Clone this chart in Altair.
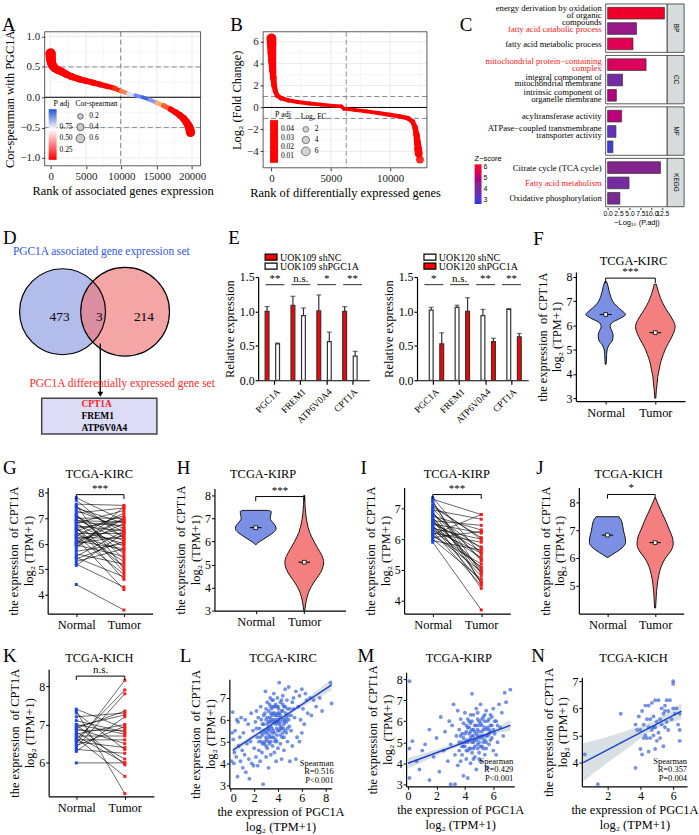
import altair as alt
import pandas as pd

SERIF = "Liberation Serif"
SANS = "Liberation Sans"
ONE = pd.DataFrame({"o": [0]})

# ======================= DATA =======================
# Panel A: ranked Spearman correlation with PGC1A
A_rank = [0, 40, 120, 300, 600, 1000, 1600, 2200, 3000, 4000, 5000, 6000, 7000, 8000, 9000,
          10000, 11000, 12000, 13000, 14000, 15000, 16000, 17000, 17700, 18300, 18800, 19200,
          19500, 19700, 19780]
A_cor = [0.72, 0.63, 0.57, 0.52, 0.48, 0.45, 0.42, 0.38, 0.34, 0.30, 0.27, 0.24, 0.21, 0.18, 0.15,
         0.10, 0.06, 0.03, 0.00, -0.04, -0.09, -0.14, -0.20, -0.25, -0.30, -0.35, -0.41,
         -0.47, -0.53, -0.58]
A_padj = [0.01, 0.01, 0.01, 0.01, 0.01, 0.01, 0.01, 0.01, 0.01, 0.01, 0.01, 0.01, 0.01, 0.01, 0.1,
          0.45, 0.75, 1.0, 1.1, 0.95, 0.65, 0.3, 0.01, 0.01, 0.01, 0.01, 0.01,
          0.01, 0.01, 0.01]
A_padj_ticks = [0.75, 0.5, 0.25]

# Panel B: ranked log2 fold change
B_rank = [0, 15, 40, 70, 110, 160, 230, 330, 480, 800, 1400, 2200, 3200, 4200, 5200, 5900, 6100,
          7000, 8000, 9000, 10000, 10800, 11500, 11900, 12100, 12220, 12300, 12360, 12400, 12510]
B_lfc = [6.3, 5.8, 5.0, 4.2, 3.4, 2.7, 2.0, 1.5, 1.1, 0.85, 0.65, 0.5, 0.36, 0.26, 0.16, 0.1, -0.12,
         -0.22, -0.36, -0.5, -0.68, -0.82, -0.98, -1.3, -1.8, -2.5, -3.2, -3.8, -4.2, -4.75]
B_padj = [0.01, 0.01, 0.01, 0.01, 0.01, 0.01, 0.01, 0.01, 0.01, 0.01, 0.01, 0.01, 0.01, 0.01, 0.01,
          0.01, 0.01, 0.01, 0.01, 0.01, 0.01, 0.01, 0.01, 0.01, 0.01, 0.01, 0.01, 0.01, 0.01, 0.01]
B_padj_ticks = [0.04, 0.03, 0.02, 0.01]

# Panel C: enrichment
C_terms = ["energy derivation by oxidation\nof organic\ncompounds", "fatty acid catabolic process",
           "fatty acid metabolic process",
           "mitochondrial protein−containing\ncomplex", "integral component of\nmitochondrial membrane",
           "intrinsic component of\norganelle membrane",
           "acyltransferase activity", "ATPase−coupled transmembrane\ntransporter activity", "",
           "Citrate cycle (TCA cycle)", "Fatty acid metabolism", "Oxidative phosphorylation"]
C_group = ["BP", "BP", "BP", "CC", "CC", "CC", "MF", "MF", "MF", "KEGG", "KEGG", "KEGG"]
C_val = [13.0, 6.6, 5.8, 8.8, 3.4, 2.0, 3.2, 1.9, 1.2, 12.1, 4.9, 2.8]
C_z = [6.1, 4.6, 5.6, 5.5, 3.8, 4.9, 5.0, 3.3, 2.8, 4.4, 3.9, 4.2]
C_tcol = ["black", "#FF2020", "black", "#FF2020", "black", "black",
          "black", "black", "black", "black", "#FF2020", "black"]
C_groups = ["BP", "CC", "MF", "KEGG"]

# Panel D: Venn
D_counts = [473, 3, 214]
D_sets = ["PGC1A associated gene expression set", "PGC1A differentially expressed gene set"]
D_genes = ["CPT1A", "FREM1", "ATP6V0A4"]
D_gene_col = ["#FF2020", "black", "black"]

# Panel E: qPCR
E_genes = ["PGC1A", "FREM1", "ATP6V0A4", "CPT1A"]
E1_nc = [1.00, 1.09, 1.01, 1.00]
E1_nc_err = [0.07, 0.13, 0.23, 0.07]
E1_sh = [0.53, 0.94, 0.56, 0.35]
E1_sh_err = [0.01, 0.11, 0.14, 0.07]
E1_sig = ["**", "n.s.", "*", "**"]
E2_nc = [1.02, 1.06, 0.94, 1.03]
E2_nc_err = [0.04, 0.03, 0.09, 0.01]
E2_sh = [0.53, 1.00, 0.56, 0.63]
E2_sh_err = [0.16, 0.20, 0.05, 0.05]
E2_sig = ["*", "n.s.", "**", "**"]

# Violins (value, half width)
F_norm_y = [7.8, 7.6, 7.4, 7.2, 7.0, 6.8, 6.6, 6.45, 6.3, 6.1, 5.95, 5.8, 5.6, 5.4, 5.2, 5.0, 4.8, 4.6, 4.4]
F_norm_w = [0.02, 0.05, 0.07, 0.1, 0.14, 0.22, 0.33, 0.4, 0.3, 0.12, 0.09, 0.12, 0.15, 0.14, 0.07, 0.03, 0.02, 0.015, 0.01]
F_tum_y = [7.7, 7.4, 7.1, 6.8, 6.5, 6.2, 5.95, 5.7, 5.4, 5.1, 4.8, 4.5, 4.2, 3.9, 3.6, 3.3, 3.0]
F_tum_w = [0.02, 0.06, 0.11, 0.18, 0.27, 0.36, 0.4, 0.37, 0.3, 0.22, 0.16, 0.11, 0.08, 0.05, 0.035, 0.02, 0.01]
F_means = [6.45, 5.7]

H_norm_y = [7.35, 7.3, 7.15, 7.0, 6.85, 6.7, 6.55, 6.4, 6.25, 6.1, 5.98, 5.87]
H_norm_w = [0.26, 0.32, 0.31, 0.3, 0.34, 0.4, 0.42, 0.37, 0.27, 0.16, 0.07, 0.01]
H_tum_y = [8.0, 7.6, 7.2, 6.8, 6.4, 6.0, 5.7, 5.4, 5.1, 4.8, 4.5, 4.2, 3.9, 3.6, 3.3, 3.0]
H_tum_w = [0.01, 0.015, 0.03, 0.06, 0.11, 0.2, 0.28, 0.36, 0.4, 0.37, 0.29, 0.19, 0.11, 0.06, 0.03, 0.01]
H_means = [6.6, 5.1]

J_norm_y = [7.48, 7.35, 7.15, 6.95, 6.75, 6.55, 6.4, 6.25, 6.12, 6.02]
J_norm_w = [0.24, 0.29, 0.32, 0.34, 0.37, 0.38, 0.33, 0.22, 0.1, 0.01]
J_tum_y = [8.15, 7.9, 7.6, 7.3, 7.0, 6.75, 6.5, 6.25, 6.0, 5.7, 5.4, 5.1, 4.8, 4.5, 4.2]
J_tum_w = [0.01, 0.07, 0.15, 0.23, 0.3, 0.36, 0.38, 0.33, 0.22, 0.13, 0.08, 0.05, 0.03, 0.02, 0.01]
J_means = [6.82, 6.55]

# Paired samples
G_norm = [7.8, 7.7, 7.55, 7.5, 7.4, 7.3, 7.2, 7.1, 7.05, 7.0, 6.95, 6.9, 6.85, 6.8, 6.75, 6.7, 6.65, 6.6,
          6.55, 6.5, 6.45, 6.4, 6.35, 6.3, 6.25, 6.2, 6.15, 6.1, 6.05, 6.0, 5.95, 5.9, 5.7, 5.6, 5.5, 5.45,
          5.4, 5.3, 5.2, 5.15, 4.4, 6.9, 7.45, 6.6, 6.3, 7.15, 6.0, 5.8]
G_tum = [6.9, 6.2, 7.5, 5.0, 6.8, 6.6, 7.4, 5.6, 6.3, 7.0, 6.1, 4.9, 6.7, 7.3, 5.9, 6.5, 4.6, 6.9,
         6.0, 7.1, 5.3, 6.4, 5.7, 7.2, 6.2, 4.2, 6.6, 5.8, 7.0, 6.3, 5.5, 6.8, 6.0, 5.2, 6.5, 4.7,
         6.1, 5.8, 4.3, 6.4, 3.4, 6.85, 6.45, 5.1, 4.8, 5.4, 6.95, 7.45]
I_norm = [7.35, 7.3, 7.2, 7.1, 7.0, 6.95, 6.9, 6.8, 6.75, 6.7, 6.65, 6.6, 6.55, 6.5, 6.45, 6.4, 6.35, 6.3,
          6.25, 6.2, 6.15, 6.1, 6.0, 5.95, 5.9, 6.05, 6.85, 7.25, 6.6, 6.3, 6.7, 6.5, 6.15, 7.05, 6.4]
I_tum = [5.5, 6.8, 4.9, 6.0, 5.3, 6.65, 4.6, 5.7, 6.3, 5.0, 4.4, 6.45, 5.6, 6.2, 4.8, 5.4, 6.0, 5.1,
         4.5, 5.9, 6.8, 5.2, 4.7, 5.65, 3.7, 6.25, 5.35, 4.55, 5.05, 5.55, 4.9, 5.75, 4.95, 6.05, 4.6]
K_norm = [7.4, 7.35, 7.3, 7.2, 7.1, 7.0, 6.95, 6.9, 6.85, 6.8, 6.75, 6.7, 6.65, 6.6, 6.55, 6.5, 6.45,
          6.4, 6.35, 6.3, 6.6, 7.0, 6.9, 6.0, 6.7]
K_tum = [6.9, 5.2, 6.35, 7.3, 6.8, 5.95, 7.25, 6.5, 6.85, 6.1, 7.0, 6.7, 5.65, 7.9, 6.4, 8.15, 6.95,
         7.8, 6.25, 7.2, 6.6, 6.75, 7.35, 6.0, 6.0]

# Correlation scatters
L_pts = [(0.1, 4.1), (0.2, 6.35), (0.25, 5.1), (0.3, 4.0), (0.35, 4.5), (0.4, 5.5), (0.5, 4.3), (0.55, 6.0),
         (0.6, 3.4), (0.7, 4.8), (0.8, 5.2), (0.85, 4.1), (0.9, 6.1), (1.0, 4.6), (1.05, 3.8), (1.1, 5.4),
         (1.2, 4.4), (1.25, 6.0), (1.3, 3.6), (1.4, 4.9), (1.5, 5.8), (1.55, 4.2), (1.6, 3.3), (1.7, 5.0),
         (1.75, 6.3), (1.8, 4.0), (1.9, 5.5), (1.95, 3.9), (0.15, 5.4), (0.65, 5.9),
         (2.0, 4.7), (2.1, 5.9), (2.15, 4.3), (2.2, 6.4), (2.25, 5.2), (2.3, 3.9), (2.35, 6.1), (2.4, 4.6),
         (2.45, 5.6), (2.5, 4.1), (2.55, 6.6), (2.6, 5.0), (2.65, 4.5), (2.7, 5.8), (2.75, 3.05), (2.8, 6.2),
         (2.85, 4.9), (2.9, 5.4), (2.95, 7.3), (3.0, 4.3), (3.0, 6.0), (3.05, 5.1), (3.1, 6.8), (3.1, 4.7),
         (3.15, 5.6), (3.2, 6.4), (3.2, 3.8), (3.25, 5.3), (3.3, 6.1), (3.3, 4.9), (3.35, 7.0), (3.4, 5.7),
         (3.4, 4.4), (3.45, 6.5), (3.5, 5.2), (3.5, 6.9), (3.55, 4.8), (3.6, 6.0), (3.6, 5.5), (3.65, 7.2),
         (3.7, 4.5), (3.7, 6.3), (3.75, 5.0), (3.8, 6.7), (3.8, 5.8), (3.85, 4.1), (3.9, 6.2), (3.9, 5.3),
         (3.95, 7.0), (4.0, 5.9), (4.0, 4.7), (4.05, 6.5), (4.1, 5.5), (4.1, 7.7), (4.15, 6.1), (4.2, 4.9),
         (4.2, 6.8), (4.25, 5.7), (4.3, 6.4), (4.3, 4.2), (4.35, 5.2), (4.4, 7.1), (4.4, 6.0), (4.45, 5.6),
         (4.5, 6.6), (4.5, 4.6), (4.55, 5.9), (4.6, 7.4), (4.65, 6.3), (4.7, 5.4), (4.75, 6.9), (4.8, 5.0),
         (4.85, 6.2), (4.9, 7.5), (4.95, 5.7), (5.0, 6.5), (2.9, 5.0), (3.3, 5.5), (3.6, 6.6), (4.0, 6.3),
         (3.4, 6.0), (3.7, 5.4), (3.0, 5.5), (2.6, 5.4), (4.2, 5.9), (3.9, 6.6), (3.5, 5.9), (4.6, 6.0),
         (3.2, 5.9), (2.8, 5.5),
         (5.1, 5.5), (5.2, 6.8), (5.3, 7.0), (5.4, 6.1), (5.5, 7.3), (5.6, 5.2), (5.7, 6.6), (5.8, 7.1),
         (5.9, 6.0), (6.0, 7.4), (6.1, 6.5), (6.2, 5.8), (6.3, 7.2), (6.4, 6.9), (6.5, 6.3), (6.7, 7.0),
         (6.8, 6.2), (7.0, 6.9), (7.2, 6.6), (7.5, 7.0), (5.2, 4.8), (5.5, 4.2), (5.0, 4.1), (8.4, 7.7),
         (8.5, 6.75), (6.0, 5.4), (5.8, 5.0), (7.7, 6.4),
         (2.5, 5.2), (2.6, 6.0), (2.7, 4.9), (2.8, 5.8), (2.9, 6.3), (3.0, 5.2), (3.0, 6.5), (3.1, 5.4),
         (3.1, 6.1), (3.2, 5.0), (3.2, 5.6), (3.3, 6.7), (3.3, 5.2), (3.4, 6.3), (3.4, 5.0), (3.5, 5.6),
         (3.5, 6.2), (3.6, 5.2), (3.6, 6.9), (3.7, 5.9), (3.7, 6.6), (3.8, 5.1), (3.8, 6.2), (3.9, 5.6),
         (3.9, 5.0), (4.0, 5.5), (4.0, 6.6), (4.1, 5.8), (4.1, 6.3), (4.2, 5.3), (4.2, 6.2), (4.3, 5.6),
         (4.3, 6.9), (4.4, 5.4), (4.4, 6.4), (4.5, 5.8), (4.5, 5.2), (4.6, 6.6), (4.6, 5.5), (4.7, 6.1),
         (4.7, 5.9), (4.8, 6.5), (4.8, 5.6), (3.5, 5.4), (3.3, 5.9), (3.8, 6.0), (4.0, 6.0), (3.6, 6.3),
         (3.9, 5.9), (4.2, 5.6), (2.7, 5.3), (3.1, 5.8), (3.4, 6.6), (4.4, 6.7), (4.9, 6.0), (5.1, 6.2),
         (5.3, 6.5), (2.4, 5.0), (2.2, 5.6), (3.0, 4.8)]
L_band_x = [0.2, 2.0, 3.5, 5.0, 6.5, 8.5]
L_band_lo = [4.45, 5.15, 5.73, 6.25, 6.72, 7.35]
L_band_hi = [4.75, 5.35, 5.85, 6.42, 7.02, 7.85]
L_fit_x = [0.2, 8.5]
L_fit_y = [4.6, 7.6]
L_stats = ["Spearman", "R=0.516", "P<0.001"]

M_pts = [(0.1, 7.9), (0.1, 3.3), (0.1, 4.7), (0.3, 5.05), (0.6, 4.1), (0.8, 3.7), (1.0, 4.6), (1.2, 4.9),
         (1.5, 3.2), (1.5, 5.6), (1.8, 4.3), (2.0, 5.2), (2.2, 3.6), (2.3, 6.2), (2.5, 4.6), (2.6, 5.5),
         (2.8, 4.1), (2.9, 6.0), (3.0, 3.0), (3.0, 4.9), (3.1, 5.8), (3.2, 6.8), (3.3, 3.0), (3.3, 4.4),
         (3.4, 5.3), (3.5, 6.5), (3.5, 3.9),
         (3.6, 4.6), (3.6, 5.6), (3.7, 4.1), (3.7, 6.1), (3.8, 5.0), (3.8, 4.4), (3.9, 5.9), (3.9, 3.4),
         (4.0, 4.8), (4.0, 5.4), (4.0, 6.4), (4.1, 4.2), (4.1, 5.1), (4.2, 5.7), (4.2, 3.3), (4.3, 4.7),
         (4.3, 6.0), (4.4, 5.2), (4.4, 4.0), (4.5, 5.6), (4.5, 7.3), (4.5, 4.5), (4.6, 6.3), (4.6, 5.0),
         (4.7, 4.3), (4.7, 5.8), (4.8, 5.4), (4.8, 6.6), (4.8, 3.7), (4.9, 4.9), (4.9, 6.1), (5.0, 5.2),
         (5.0, 4.5), (5.0, 5.8), (5.1, 6.8), (5.1, 4.1), (5.2, 5.5), (5.2, 4.8), (5.3, 6.2), (5.3, 5.0),
         (5.4, 5.7), (5.4, 4.4), (5.5, 6.5), (5.5, 5.3), (5.6, 3.8), (5.6, 6.0), (5.7, 5.6), (5.7, 4.9),
         (5.8, 6.3), (5.8, 5.1), (5.9, 5.8), (6.0, 4.6), (6.0, 6.6), (6.1, 5.4), (6.2, 6.0), (6.3, 5.0),
         (6.4, 6.8), (6.5, 5.7), (6.6, 6.4), (6.8, 7.35), (7.2, 7.5), (6.9, 6.9), (4.2, 5.0), (4.6, 5.6),
         (5.0, 5.5), (4.4, 5.9), (4.9, 5.3), (5.3, 5.6), (3.8, 5.4), (4.1, 4.6), (5.5, 4.7), (5.8, 5.5),
         (4.7, 5.1), (5.1, 5.9), (5.2, 6.1), (4.3, 5.4), (3.9, 4.8), (4.5, 5.0), (6.2, 4.4), (6.7, 5.3),
         (3.8, 4.8), (3.9, 5.2), (4.0, 5.0), (4.1, 5.5), (4.2, 4.6), (4.3, 5.1), (4.3, 5.7), (4.4, 4.7),
         (4.4, 5.5), (4.5, 5.3), (4.5, 6.0), (4.6, 4.7), (4.6, 5.3), (4.7, 5.5), (4.7, 4.8), (4.8, 5.1),
         (4.8, 5.8), (4.9, 5.6), (4.9, 4.7), (5.0, 5.0), (5.0, 6.0), (5.1, 5.3), (5.1, 4.8), (5.2, 5.8),
         (5.2, 5.2), (5.3, 4.7), (5.3, 5.3), (5.4, 5.1), (5.4, 6.0), (5.5, 5.6), (5.5, 5.0), (5.6, 5.3),
         (5.6, 5.7), (5.7, 5.4), (5.8, 5.8), (5.9, 5.2), (6.0, 5.6), (6.1, 6.0), (5.0, 4.2), (4.6, 4.2),
         (4.1, 5.8), (3.7, 5.3), (5.9, 6.2), (6.3, 5.8), (4.4, 6.3), (4.9, 6.4), (5.4, 6.3), (5.7, 6.1),
         (3.6, 5.0), (4.2, 6.1)]
M_band_x = [0.0, 2.0, 4.0, 5.0, 6.0, 7.2]
M_band_lo = [3.75, 4.35, 4.92, 5.17, 5.38, 5.55]
M_band_hi = [4.25, 4.65, 5.08, 5.33, 5.62, 6.05]
M_fit_x = [0.0, 7.2]
M_fit_y = [4.0, 5.8]
M_stats = ["Spearman", "R=0.429", "P<0.001"]

N_pts = [(0.6, 4.3), (1.4, 3.2), (2.8, 5.8), (3.7, 3.8), (3.7, 5.4), (3.8, 5.2), (3.9, 5.7), (4.0, 4.5),
         (4.0, 5.2), (4.1, 4.3), (4.1, 5.9), (4.2, 5.4), (4.2, 4.9), (4.3, 6.1), (4.3, 5.0), (4.4, 4.9),
         (4.4, 5.6), (4.5, 6.1), (4.5, 5.3), (4.5, 4.4), (4.6, 5.6), (4.6, 4.9), (4.7, 6.2), (4.7, 5.2),
         (4.8, 5.0), (4.8, 5.7), (4.9, 6.3), (4.9, 5.3), (4.9, 4.5), (5.0, 5.5), (5.0, 4.8), (5.1, 6.3),
         (5.1, 5.1), (5.2, 5.6), (5.2, 4.9), (5.3, 5.4), (5.3, 6.0), (5.4, 5.8), (5.4, 4.6), (5.5, 5.3),
         (5.5, 5.9), (5.6, 6.3), (5.6, 5.5), (5.7, 5.2), (5.7, 5.9), (5.8, 6.3), (5.9, 5.6), (6.0, 7.0),
         (6.0, 6.9), (6.0, 6.0), (6.1, 5.8), (6.2, 6.0), (6.3, 5.4), (6.4, 5.8), (6.4, 5.2), (6.4, 4.8),
         (5.5, 6.1), (4.8, 5.3)]
N_band_x = [0.5, 2.0, 3.5, 4.5, 5.5, 6.5]
N_band_lo = [3.3, 4.0, 4.65, 5.1, 5.4, 5.6]
N_band_hi = [4.7, 4.95, 5.25, 5.45, 5.78, 6.2]
N_fit_x = [0.5, 6.5]
N_fit_y = [4.0, 5.9]
N_stats = ["Spearman", "R=0.357", "P=0.004"]

CPT_TITLE = ["the expression\u00a0 of CPT1A", "log\u2082 (TPM+1)"]
PGC_TITLE = ["the expression of PGC1A", "log\u2082 (TPM+1)"]
BLUE_PT = "#2046E0"
RED_PT = "#FF1A1A"
VIO_N = "#7B8FE3"
VIO_T = "#F47F7F"


# ======================= HELPERS =======================
def qs(dom, rng):
    return alt.Scale(domain=list(dom), range=list(rng), nice=False, zero=False)


def QX(field, X, XA):
    return alt.X(field, type="quantitative", scale=X, axis=XA)


def QY(field, Y, YA):
    return alt.Y(field, type="quantitative", scale=Y, axis=YA)


def label(text, x, y, size=12.5, color="black", align="center", font=SERIF, weight="normal",
          angle=0, baseline="alphabetic"):
    return alt.Chart(ONE).mark_text(text=text, fontSize=size, color=color, align=align, font=font,
                                    fontWeight=weight, angle=angle, baseline=baseline).encode(
        x=alt.value(x), y=alt.value(y))


def spacer(w):
    return alt.Chart(ONE).mark_point(opacity=0, size=0, strokeWidth=0).encode(
        x=alt.value(1), y=alt.value(1)).properties(width=w, height=1)


def frame(x0, x1, y0, y1, stroke="#333333", fill="transparent", sw=0.8):
    return alt.Chart(ONE).mark_rect(fill=fill, stroke=stroke, strokeWidth=sw).encode(
        x=alt.value(x0), x2=alt.value(x1), y=alt.value(y0), y2=alt.value(y1))


def grad_rect(x0, x1, y0, y1, stops):
    grad = alt.LinearGradient(gradient="linear", x1=0, x2=0, y1=0, y2=1,
                              stops=[alt.GradientStop(color=c, offset=o) for o, c in stops])
    return alt.Chart(ONE).mark_rect(fill=grad).encode(
        x=alt.value(x0), x2=alt.value(x1), y=alt.value(y0), y2=alt.value(y1))


def hrules(vals, Y, YA, x0, x1, **mk):
    return alt.Chart(pd.DataFrame({"v": vals})).mark_rule(**mk).encode(
        y=QY("v", Y, YA), x=alt.value(x0), x2=alt.value(x1))


def vrules(vals, X, XA, y0, y1, **mk):
    return alt.Chart(pd.DataFrame({"v": vals})).mark_rule(**mk).encode(
        x=QX("v", X, XA), y=alt.value(y0), y2=alt.value(y1))


def gg_grid(X, XA, Y, YA, xmaj, xmin, ymaj, ymin, x0, x1, y0, y1):
    return [vrules(xmin, X, XA, y0, y1, color="#EFEFEF", strokeWidth=0.5),
            vrules(xmaj, X, XA, y0, y1, color="#E6E6E6", strokeWidth=0.8),
            hrules(ymin, Y, YA, x0, x1, color="#EFEFEF", strokeWidth=0.5),
            hrules(ymaj, Y, YA, x0, x1, color="#E6E6E6", strokeWidth=0.8)]


def seg_df(xs, ys, cs):
    rows = []
    for i in range(len(xs) - 1):
        for j in (i, i + 1):
            rows.append({"x": xs[j], "y": ys[j], "c": cs[i], "w": abs(ys[j]), "seg": i})
    return pd.DataFrame(rows)


def gradient_legend(title, x0, y0, y1, dom, stops, ticks, fmt):
    # a drawn colour-bar: the tick texts are placed by the same linear map as the bar
    layers = [label(title, x0 + 5, y0 - 3, size=8, align="left"), grad_rect(x0, x0 + 8, y0, y1, stops)]
    for t in ticks:
        yy = y1 - (t - dom[0]) / (dom[1] - dom[0]) * (y1 - y0)
        layers.append(label(format(t, fmt), x0 + 11, yy, size=7.5, align="left", baseline="middle"))
    return layers


GG_AX = dict(domain=False, tickSize=3, tickColor="#333333", labelColor="#222222", labelFontSize=11,
             titleFontSize=12.5, labelPadding=2, titlePadding=3)


def yax(vals, title=CPT_TITLE, fmt="d"):
    return alt.Axis(values=vals, title=title, format=fmt, titleFontSize=12.5, labelFontSize=12,
                    tickSize=3, domainWidth=1.2, labelPadding=1, titlePadding=2, titleLineHeight=15)


def xax_nt():
    return alt.Axis(values=[1, 2], labelExpr="datum.value == 1 ? 'Normal' : 'Tumor'", title=None,
                    tickSize=3, domainWidth=1.2, labelFontSize=12.5, labelPadding=2)


def bracket(X, XA, Y, YA, y, txt, drop):
    segs = pd.DataFrame({"x": [1, 1, 2], "x2": [2, 1, 2], "y": [y, y, y], "y2": [y, y - drop, y - drop]})
    r = alt.Chart(segs).mark_rule(color="black", strokeWidth=1).encode(
        x=QX("x", X, XA), x2="x2:Q", y=QY("y", Y, YA), y2="y2:Q")
    t = alt.Chart(pd.DataFrame({"x": [1.5], "y": [y], "t": [txt]})).mark_text(
        baseline="bottom", dy=-1, fontSize=11, font=SERIF).encode(
        x=QX("x", X, XA), y=QY("y", Y, YA), text="t:N")
    return [r, t]


def size_legend(title, lx, ly, values):
    return alt.Legend(title=title, orient="none", legendX=lx, legendY=ly, values=values,
                      symbolFillColor="#CCCCCC", symbolStrokeColor="#444444", symbolStrokeWidth=0.8,
                      labelFontSize=7.5, titleFontSize=7.5, rowPadding=0)


# ======================= PANEL A =======================
A_X = qs([-840, 21200], [0, 157])
A_Y = qs([-1.13, 1.08], [163, 28])
A_XA = alt.Axis(values=[0, 5000, 10000, 15000, 20000], format="d",
                title="Rank of associated  genes expression", **GG_AX)
A_YA = alt.Axis(values=[-1, -0.5, 0, 0.5, 1], format=".1f", title="Cor-spearman with PGC1A", **GG_AX)
A_CDOM = [0.02, 0.7, 1.15]
A_CRNG = ["#FF0000", "#FFFFFF", "#2553C8"]
A_COL = alt.Scale(domain=A_CDOM, range=A_CRNG, clamp=True)
a_trail = alt.Chart(seg_df(A_rank, A_cor, A_padj)).mark_trail().encode(
    x=QX("x", A_X, A_XA), y=QY("y", A_Y, A_YA),
    size=alt.Size("w:Q", scale=alt.Scale(domain=[0, 0.75], range=[3.5, 11]), legend=None),
    color=alt.Color("c:Q", scale=A_COL, legend=None),
    detail="seg:N")
a_pts = alt.Chart(pd.DataFrame({"x": A_rank, "y": A_cor, "c": A_padj, "s": [abs(v) for v in A_cor]})
                  ).mark_circle(opacity=1).encode(
    x=QX("x", A_X, A_XA), y=QY("y", A_Y, A_YA),
    color=alt.Color("c:Q", scale=A_COL, legend=None),
    size=alt.Size("s:Q", scale=alt.Scale(domain=[0, 0.75], range=[10, 90]),
                  legend=size_legend("Cor-spearman", 31, 97, [0.2, 0.4, 0.6])))
a_stops = [(0.0, A_CRNG[2]), ((A_CDOM[2] - A_CDOM[1]) / (A_CDOM[2] - A_CDOM[0]), A_CRNG[1]), (1.0, A_CRNG[0])]
A = alt.layer(
    *gg_grid(A_X, A_XA, A_Y, A_YA, [0, 5000, 10000, 15000, 20000], [2500, 7500, 12500, 17500],
             [-1, -0.5, 0, 0.5, 1], [-0.75, -0.25, 0.25, 0.75], 0, 157, 28, 163),
    hrules([-0.5, 0.5], A_Y, A_YA, 0, 157, strokeDash=[5, 3], color="#7F8C99", strokeWidth=1),
    vrules([9900], A_X, A_XA, 28, 163, strokeDash=[5, 3], color="#7F8C99", strokeWidth=1),
    hrules([0], A_Y, A_YA, 0, 157, color="black", strokeWidth=1),
    a_trail, a_pts,
    *gradient_legend("P adj", 4, 106, 157, [A_CDOM[0], A_CDOM[2]], a_stops, A_padj_ticks, ".2f"),
    frame(0, 157, 28, 163),
    label("A", -43, 27, size=19, align="left"),
).resolve_scale(size="independent").properties(height=163)

# ======================= PANEL B =======================
B_X = qs([-700, 13100], [0, 165])
B_Y = qs([-5.5, 6.9], [165, 28])
B_XA = alt.Axis(values=[0, 5000, 10000], format="d", title="Rank of differentially expressed genes", **GG_AX)
B_YA = alt.Axis(values=[-4, -2, 0, 2, 4, 6], format="d", title="Log\u2082 (Fold Change)", **GG_AX)
B_CDOM = [0.002, 0.05]
B_CRNG = ["#FF0000", "#FF0808"]
B_COL = alt.Scale(domain=B_CDOM, range=B_CRNG)
b_trail = alt.Chart(seg_df(B_rank[:-1], B_lfc[:-1], B_padj[:-1])).mark_trail().encode(
    x=QX("x", B_X, B_XA), y=QY("y", B_Y, B_YA),
    size=alt.Size("w:Q", scale=alt.Scale(domain=[0, 6.3], range=[3.5, 10]), legend=None),
    color=alt.Color("c:Q", scale=B_COL, legend=None),
    detail="seg:N")
b_pts = alt.Chart(pd.DataFrame({"x": B_rank, "y": B_lfc, "c": B_padj, "s": [abs(v) for v in B_lfc]})
                  ).mark_circle(opacity=0.85).encode(
    x=QX("x", B_X, B_XA), y=QY("y", B_Y, B_YA),
    color=alt.Color("c:Q", scale=B_COL, legend=None),
    size=alt.Size("s:Q", scale=alt.Scale(domain=[0, 6.3], range=[10, 80]),
                  legend=size_legend("Log\u2082 FC", 38, 110, [2, 4, 6])))
B = alt.layer(
    *gg_grid(B_X, B_XA, B_Y, B_YA, [0, 5000, 10000], [2500, 7500, 12500], [-4, -2, 0, 2, 4, 6],
             [-5, -3, -1, 1, 3, 5], 0, 165, 28, 165),
    hrules([-1, 1], B_Y, B_YA, 0, 165, strokeDash=[5, 3], color="#7F8C99", strokeWidth=1),
    vrules([6300], B_X, B_XA, 28, 165, strokeDash=[5, 3], color="#7F8C99", strokeWidth=1),
    hrules([0], B_Y, B_YA, 0, 165, color="black", strokeWidth=1),
    b_trail, b_pts,
    *gradient_legend("P adj", 7, 117, 160, B_CDOM, [(0.0, B_CRNG[1]), (1.0, B_CRNG[0])], B_padj_ticks, ".2f"),
    frame(0, 165, 28, 165),
    label("B", -33, 27, size=19, align="left"),
).resolve_scale(size="independent").properties(height=165)

# ======================= PANEL C =======================
C_X = qs([-0.45, 13.64], [0, 62])
C_PX = 205 / 13.25
C_Y = qs([0, 13.25], [0, 205])
C_XA = alt.Axis(values=[0, 2.5, 5, 7.5, 10, 12.5], format=".1f", title="\u2212Log\u2081\u2080 (P.adj)",
                labelFont=SANS, titleFont=SANS, labelFontSize=6.8, titleFontSize=7.5, tickSize=2,
                domain=False, labelPadding=1, titlePadding=1, labelOverlap=False, tickColor="#333333")
c_df = pd.DataFrame({"term": C_terms, "g": C_group, "v": C_val, "z": C_z, "col": C_tcol})
c_df["k"] = c_df.groupby("g").cumcount()
c_df["gi"] = c_df["g"].map({g: i for i, g in enumerate(C_groups)})
c_df["mid"] = c_df["gi"] * 3.35 + 0.6 + c_df["k"]
c_df["y0"] = c_df["mid"] - 0.38
c_df["y1"] = c_df["mid"] + 0.38
c_df["x0"] = 0.0
g_df = pd.DataFrame({"g": C_groups})
g_df["top"] = [i * 3.35 for i in range(len(C_groups))]
g_df["bot"] = g_df["top"] + 3.15
g_df["mid"] = g_df["top"] + 1.575
LINE = 7.0 / C_PX
lab_rows = []
for term, mid, col in zip(c_df["term"], c_df["mid"], c_df["col"]):
    parts = term.split("\n")
    first = mid - (len(parts) - 1) / 2 * LINE
    first = max(first, 4.3 / C_PX)  # keep the top line inside the figure
    for i, part in enumerate(parts):
        lab_rows.append({"t": part, "y": first + i * LINE, "col": col})
lab_df = pd.DataFrame(lab_rows)

c_bars = alt.Chart(c_df).mark_bar(stroke="#333333", strokeWidth=0.7).encode(
    x=QX("x0", C_X, C_XA), x2="v:Q",
    y=QY("y0", C_Y, None), y2="y1:Q",
    color=alt.Color("z:Q", scale=alt.Scale(domain=[2.6, 4.3, 6.2], range=["#1F3FE6", "#7A2A8E", "#F0101C"]),
                    legend=alt.Legend(title="Z\u2212score", type="gradient", orient="none", legendX=-132,
                                      legendY=152, gradientLength=40, gradientThickness=7,
                                      values=[3, 4, 5, 6], format="d", labelFont=SANS, titleFont=SANS,
                                      labelFontSize=7, titleFontSize=7.5, titlePadding=2,
                                      direction="vertical")))
c_boxes = alt.Chart(g_df).mark_rect(fill="transparent", stroke="#333333", strokeWidth=0.8).encode(
    y=QY("top", C_Y, None), y2="bot:Q", x=alt.value(0), x2=alt.value(62))
c_strips = alt.Chart(g_df).mark_rect(fill="#D6DCDC", stroke="#333333", strokeWidth=0.8).encode(
    y=QY("top", C_Y, None), y2="bot:Q", x=alt.value(62), x2=alt.value(79))
c_stext = alt.Chart(g_df).mark_text(angle=90, fontSize=6.5, font=SANS, baseline="middle").encode(
    y=QY("mid", C_Y, None), x=alt.value(70.5), text="g:N")
c_lab = alt.Chart(lab_df).mark_text(align="right", baseline="middle", font=SERIF, fontSize=8.7).encode(
    x=alt.value(-4), y=QY("y", C_Y, None), text="t:N",
    color=alt.Color("col:N", scale=None))
C = alt.layer(c_bars, c_boxes, c_strips, c_stext, c_lab,
              label("C", -147, 27, size=19, align="left")).properties(height=205)

# ======================= PANEL D =======================
D = alt.layer(
    label("D", 3, 37, size=19, align="left"),
    label(D_sets[0], 102, 48, size=11.5, color="#3355DD"),
    alt.Chart(ONE).mark_circle(size=7500, color="#B3BDEC", opacity=1).encode(x=alt.value(63), y=alt.value(105)),
    alt.Chart(ONE).mark_circle(size=8000, color="#EE7676", opacity=0.66).encode(x=alt.value(126), y=alt.value(105)),
    alt.Chart(ONE).mark_point(size=7500, color="black", strokeWidth=1.2, opacity=1).encode(x=alt.value(63), y=alt.value(105)),
    alt.Chart(ONE).mark_point(size=8000, color="black", strokeWidth=1.2, opacity=1).encode(x=alt.value(126), y=alt.value(105)),
    label(str(D_counts[0]), 60, 110, size=13.5, baseline="middle"),
    label(str(D_counts[1]), 100, 110, size=13.5, baseline="middle"),
    label(str(D_counts[2]), 145, 110, size=13.5, baseline="middle"),
    alt.Chart(ONE).mark_rule(strokeWidth=1.3, color="black").encode(x=alt.value(101), y=alt.value(137), y2=alt.value(187)),
    label(D_sets[1], 123, 181, size=11.5, color="#FF2A2A"),
    alt.Chart(ONE).mark_point(shape="triangle-down", filled=True, size=35, color="black", opacity=1).encode(
        x=alt.value(101), y=alt.value(188)),
    frame(42, 158, 192, 228, stroke="#444444", fill="#DCDCF7", sw=1.5),
    label(D_genes[0], 82, 198, size=9.5, color=D_gene_col[0], align="left", weight="bold", baseline="middle"),
    label(D_genes[1], 82, 210, size=9.5, color=D_gene_col[1], align="left", weight="bold", baseline="middle"),
    label(D_genes[2], 82, 222, size=9.5, color=D_gene_col[2], align="left", weight="bold", baseline="middle"),
).properties(height=190)


# ======================= PANEL E =======================
def bar_panel(nc, nc_err, sh, sh_err, sig, names, fills, letter):
    df = pd.DataFrame({"gene": E_genes * 2, "cond": [names[0]] * 4 + [names[1]] * 4,
                       "val": nc + sh, "err": nc_err + sh_err})
    df["top"] = df["val"] + df["err"]
    XA = alt.Axis(labelAngle=-45, labelAlign="right", labelBaseline="top", labelFontSize=9.5,
                  title=None, tickSize=4, domainWidth=1.2, tickWidth=1.2, labelPadding=2)
    YA = alt.Axis(values=[0, 0.5, 1, 1.5], format=".1f", title="Relative expression", labelFontSize=12,
                  titleFontSize=12.5, tickSize=3, domainWidth=1.2, tickWidth=1.2, labelPadding=1,
                  titlePadding=3)
    xs = alt.X("gene:N", sort=E_genes, scale=alt.Scale(range=[0, 112], paddingInner=0.2, paddingOuter=0.25),
               axis=XA)
    xo = alt.XOffset("cond:N", sort=names, scale=alt.Scale(paddingInner=0.27, paddingOuter=0.1))
    Y = alt.Scale(domain=[0, 1.5], range=[174, 70], nice=False, zero=False)
    bars = alt.Chart(df).mark_bar(stroke="#333333", strokeWidth=1.2).encode(
        x=xs, xOffset=xo, y=QY("val", Y, YA), y2=alt.datum(0),
        fill=alt.Fill("cond:N", scale=alt.Scale(domain=names, range=fills), legend=None))
    errs = alt.Chart(df).mark_rule(color="#333333", strokeWidth=1.2).encode(
        x=xs, xOffset=xo, y=QY("val", Y, YA), y2="top:Q")
    caps = alt.Chart(df).mark_tick(color="#333333", thickness=1.2, size=5).encode(
        x=xs, xOffset=xo, y=QY("top", Y, YA))
    sdf = pd.DataFrame({"gene": E_genes, "sig": sig, "val": [1.39, 1.39, 1.39, 1.39]})
    sline = alt.Chart(sdf).mark_tick(color="black", thickness=1.2, size=19).encode(
        x=xs, y=QY("val", Y, YA))
    stext = alt.Chart(sdf).mark_text(baseline="bottom", dy=-1, fontSize=11, font=SERIF).encode(
        x=xs, y=QY("val", Y, YA), text="sig:N")
    layers = [bars, errs, caps, sline, stext]
    for k in range(2):
        layers.append(frame(7, 19, 47 + 9 * k, 53 + 9 * k, stroke="black", fill=fills[k], sw=1.2))
        layers.append(label(names[k], 22, 50.5 + 9 * k, size=10, align="left", baseline="middle"))
    if letter:
        layers.append(label(letter, -30, 37, size=19, align="left"))
    return alt.layer(*layers).properties(height=174)


E1 = bar_panel(E1_nc, E1_nc_err, E1_sh, E1_sh_err, E1_sig, ["UOK109 shNC", "UOK109 shPGC1A"],
               ["#FF0000", "#FFFFFF"], "E")
E2 = bar_panel(E2_nc, E2_nc_err, E2_sh, E2_sh_err, E2_sig, ["UOK120 shNC", "UOK120 shPGC1A"],
               ["#FFFFFF", "#FF0000"], None)


# ======================= VIOLINS / PAIRS / SCATTERS =======================
def violin_panel(ny, nw, ty, tw, means, ydom, yrng, yvals, xdom, xrng, h, title, tpos,
                 letter, lpos, sig, sig_y, drop):
    X = qs(xdom, xrng)
    Y = qs(ydom, yrng)
    XA = xax_nt()
    YA = yax(yvals)
    rows = []
    for yv, wv in zip(ny, nw):
        rows.append({"val": yv, "lo": 1 - wv, "hi": 1 + wv, "g": "Normal"})
    for yv, wv in zip(ty, tw):
        rows.append({"val": yv, "lo": 2 - wv, "hi": 2 + wv, "g": "Tumor"})
    df = pd.DataFrame(rows)
    area = alt.Chart(df).mark_area(orient="horizontal", interpolate="monotone", stroke="black",
                                   strokeWidth=0.9, opacity=1).encode(
        y=QY("val", Y, YA), x=QX("lo", X, XA), x2="hi:Q",
        fill=alt.Fill("g:N", scale=alt.Scale(domain=["Normal", "Tumor"], range=[VIO_N, VIO_T]), legend=None))
    mdf = pd.DataFrame({"c": [1, 2], "m": means})
    mdf["a"] = mdf["c"] - 0.12
    mdf["b"] = mdf["c"] + 0.12
    mrule = alt.Chart(mdf).mark_rule(color="black", strokeWidth=1).encode(
        x=QX("a", X, XA), x2="b:Q", y=QY("m", Y, YA))
    mpt = alt.Chart(mdf).mark_point(shape="square", filled=True, fill="white", stroke="black",
                                    strokeWidth=0.8, size=14, opacity=1).encode(
        x=QX("c", X, XA), y=QY("m", Y, YA))
    return alt.layer(area, mrule, mpt, *bracket(X, XA, Y, YA, sig_y, sig, drop),
                     label(title, tpos[0], tpos[1], size=12.5),
                     label(letter, lpos[0], lpos[1], size=19, align="left")).properties(height=h)


def paired_panel(norm, tum, ydom, yrng, yvals, xdom, xrng, h, title, tpos, letter, lpos,
                 sig, sig_y, drop):
    X = qs(xdom, xrng)
    Y = qs(ydom, yrng)
    XA = xax_nt()
    YA = yax(yvals)
    n = len(norm)
    long = pd.DataFrame({"id": list(range(n)) * 2, "pos": [1] * n + [2] * n,
                         "val": list(norm) + list(tum), "g": ["Normal"] * n + ["Tumor"] * n})
    lines = alt.Chart(long).mark_line(color="black", strokeWidth=0.6).encode(
        x=QX("pos", X, XA), y=QY("val", Y, YA), detail="id:N")
    pts = alt.Chart(long).mark_square(size=9, opacity=1).encode(
        x=QX("pos", X, XA), y=QY("val", Y, YA),
        color=alt.Color("g:N", scale=alt.Scale(domain=["Normal", "Tumor"], range=[BLUE_PT, RED_PT]),
                        legend=None))
    return alt.layer(lines, pts, *bracket(X, XA, Y, YA, sig_y, sig, drop),
                     label(title, tpos[0], tpos[1], size=12.5),
                     label(letter, lpos[0], lpos[1], size=19, align="left")).properties(height=h)


def scatter_panel(pts, bx, blo, bhi, fx, fy, stats, ydom, yrng, yvals, xdom, xrng, xvals, h,
                  title, tpos, letter, lpos, sx):
    X = qs(xdom, xrng)
    Y = qs(ydom, yrng)
    XA = alt.Axis(values=xvals, title=PGC_TITLE, format="d", tickSize=3, domainWidth=1.2,
                  labelFontSize=12, titleFontSize=12.5, titleLineHeight=15, labelPadding=1, titlePadding=2)
    YA = yax(yvals)
    band = alt.Chart(pd.DataFrame({"x": bx, "lo": blo, "hi": bhi})).mark_area(
        color="#CBD5DA", opacity=0.75, interpolate="monotone").encode(
        x=QX("x", X, XA), y=QY("lo", Y, YA), y2="hi:Q")
    pdf = pd.DataFrame(pts, columns=["x", "y"])
    dots = alt.Chart(pdf).mark_circle(size=15, color="#3F66DA", opacity=0.72).encode(
        x=QX("x", X, XA), y=QY("y", Y, YA))
    fit = alt.Chart(pd.DataFrame({"x": fx, "y": fy})).mark_line(color="#1D3FC7", strokeWidth=1.4).encode(
        x=QX("x", X, XA), y=QY("y", Y, YA))
    t1 = label(stats[0], sx, h - 23, size=8.5, align="right")
    t2 = label(stats[1], sx, h - 14, size=8.5, align="right")
    t3 = label(stats[2], sx, h - 5, size=8.5, align="right")
    return alt.layer(band, dots, fit, t1, t2, t3,
                     label(title, tpos[0], tpos[1], size=12.5),
                     label(letter, lpos[0], lpos[1], size=19, align="left")).properties(height=h)


F = violin_panel(F_norm_y, F_norm_w, F_tum_y, F_tum_w, F_means, [2.88, 8.2], [195, 65], [3, 4, 5, 6, 7, 8],
                 [0.4, 2.6], [0, 110], 195, "TCGA-KIRC", (58, 58), "F", (-43, 38), "***", 7.95, 0.2)
G = paired_panel(G_norm, G_tum, [3.26, 8.2], [214, 87], [4, 5, 6, 7, 8], [0.4, 2.6], [0, 105.6], 214,
                 "TCGA-KIRC", (52, 77), "G", (-45, 73), "***", 7.92, 0.17)
H = violin_panel(H_norm_y, H_norm_w, H_tum_y, H_tum_w, H_means, [3.0, 8.3], [211, 88], [3, 4, 5, 6, 7, 8],
                 [0.15, 2.85], [0, 132], 211, "TCGA-KIRP", (49, 77), "H", (-38, 73), "***", 7.95, 0.2)
I = paired_panel(I_norm, I_tum, [3.58, 7.68], [214, 87], [4, 5, 6, 7], [0.41, 2.6], [0, 107], 214,
                 "TCGA-KIRP", (53, 77), "I", (-44, 73), "***", 7.45, 0.14)
J = violin_panel(J_norm_y, J_norm_w, J_tum_y, J_tum_w, J_means, [4.0, 8.53], [214, 87], [5, 6, 7, 8],
                 [0.4, 2.6], [0, 105.6], 214, "TCGA-KICH", (50, 77), "J", (-43, 73), "*", 8.28, 0.15)
K = paired_panel(K_norm, K_tum, [5.13, 8.44], [184, 56], [6, 7, 8], [0.43, 2.6], [0, 106], 184,
                 "TCGA-KICH", (51, 49), "K", (-46, 49), "n.s.", 8.26, 0.1)
L = scatter_panel(L_pts, L_band_x, L_band_lo, L_band_hi, L_fit_x, L_fit_y, L_stats, [2.86, 7.86], [176, 66],
                  [3, 4, 5, 6, 7], [-0.08, 8.5], [0, 103], [0, 2, 4, 6, 8], 176,
                  "TCGA-KIRC", (54, 49), "L", (-50, 49), 105)
M = scatter_panel(M_pts, M_band_x, M_band_lo, M_band_hi, M_fit_x, M_fit_y, M_stats, [2.9, 8.33], [174, 59],
                  [3, 4, 5, 6, 7, 8], [-0.14, 7.48], [0, 109], [0, 2, 4, 6], 174,
                  "TCGA-KIRP", (53, 49), "M", (-49, 49), 108)
N = scatter_panel(N_pts, N_band_x, N_band_lo, N_band_hi, N_fit_x, N_fit_y, N_stats, [3.12, 7.15], [174, 64],
                  [4, 5, 6, 7], [0.42, 6.85], [0, 106], [2, 4, 6], 174,
                  "TCGA-KICH", (52, 49), "N", (-51, 49), 106)

# ======================= LAYOUT =======================
# every panel is anchored at the left edge of its plot area; all rows share one set of column edges
EDGES = [0, 45, 48, 49, 216, 231, 260, 265, 407, 409, 420, 580, 583, 586, 610, 699]
ROWS = [
    {45: A, 265: B, 610: C},
    {0: D, 260: E1, 420: E2, 580: F},
    {48: G, 216: H, 407: I, 583: J},
    {49: K, 231: L, 409: M, 586: N},
]
items = []
for row in ROWS:
    for i in range(len(EDGES) - 1):
        w = EDGES[i + 1] - EDGES[i]
        if EDGES[i] in row:
            items.append(row[EDGES[i]].properties(width=w))
        else:
            items.append(spacer(w))

chart = alt.concat(
    *items, columns=len(EDGES) - 1, spacing=0, bounds="flush", align="each",
).resolve_scale(
    color="independent", fill="independent", size="independent"
).resolve_legend(
    color="independent", fill="independent", size="independent"
).properties(padding=0).configure_view(stroke=None).configure_axis(
    labelFont=SERIF, titleFont=SERIF, titleFontWeight="normal", labelColor="black", titleColor="black",
    domainColor="black", tickColor="black", grid=False
).configure_legend(labelFont=SERIF, titleFont=SERIF, titleFontWeight="normal", padding=0)

chart.save("out.html", embed_options={"renderer": "svg", "actions": False})
